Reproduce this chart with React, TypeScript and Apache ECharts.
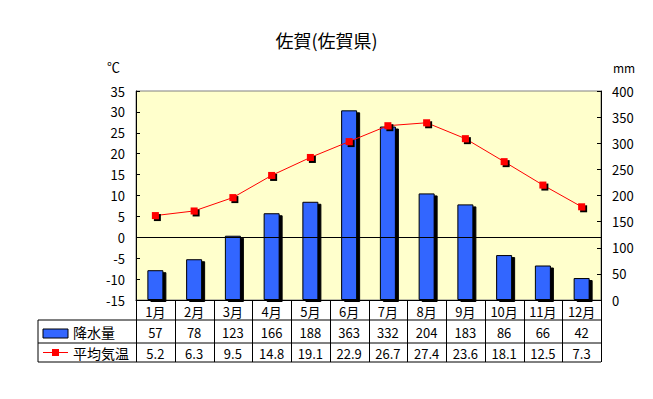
import React, { useEffect, useRef } from "react";
import * as echarts from "echarts";

const months = ["1月", "2月", "3月", "4月", "5月", "6月", "7月", "8月", "9月", "10月", "11月", "12月"];
const precipitation = [57, 78, 123, 166, 188, 363, 332, 204, 183, 86, 66, 42];
const temperature = [5.2, 6.3, 9.5, 14.8, 19.1, 22.9, 26.7, 27.4, 23.6, 18.1, 12.5, 7.3];
const titleText = "佐賀(佐賀県)";
const precipLabel = "降水量";
const tempLabel = "平均気温";

const FONT = "'Noto Sans CJK JP', sans-serif";

export default function App() {
  const ref = useRef<HTMLDivElement>(null);
  useEffect(() => {
    if (!ref.current) return;
    const chart = echarts.init(ref.current, null, { renderer: "svg" });
    const gL = 136, gT = 91, gW = 465, gH = 209;
    const colW = gW / months.length;
    const tableL = 38;
    const rowY = [gT + gH, 320, 343, 362];
    const graphics: any[] = [];
    const black = { stroke: "#000", lineWidth: 1 };
    graphics.push({ type: "line", shape: { x1: tableL, y1: rowY[1], x2: gL + gW, y2: rowY[1] }, style: black });
    graphics.push({ type: "line", shape: { x1: tableL, y1: rowY[2], x2: gL + gW, y2: rowY[2] }, style: black });
    graphics.push({ type: "line", shape: { x1: tableL, y1: rowY[3], x2: gL + gW, y2: rowY[3] }, style: black });
    graphics.push({ type: "line", shape: { x1: tableL, y1: rowY[1], x2: tableL, y2: rowY[3] }, style: black });
    for (let i = 0; i <= months.length; i++) {
      const x = Math.round(gL + i * colW) + 0.5;
      graphics.push({ type: "line", shape: { x1: x, y1: rowY[0], x2: x, y2: rowY[3] }, style: black });
    }
    for (let i = 0; i < months.length; i++) {
      const cx = gL + (i + 0.5) * colW;
      graphics.push({ type: "text", x: cx, y: (rowY[1] + rowY[2]) / 2 + 1, style: { text: String(precipitation[i]), fill: "#000", font: `13px ${FONT}`, align: "center", verticalAlign: "middle" } });
      graphics.push({ type: "text", x: cx, y: (rowY[2] + rowY[3]) / 2 + 1, style: { text: temperature[i].toFixed(1), fill: "#000", font: `13px ${FONT}`, align: "center", verticalAlign: "middle" } });
    }
    graphics.push({ type: "rect", shape: { x: 43, y: 329, width: 25, height: 9 }, style: { fill: "#3366FF", stroke: "#000", lineWidth: 1 } });
    graphics.push({ type: "text", x: 73, y: 332, style: { text: precipLabel, fill: "#000", font: `14px ${FONT}`, verticalAlign: "middle" } });
    graphics.push({ type: "line", shape: { x1: 43, y1: 352.5, x2: 68, y2: 352.5 }, style: { stroke: "#FF0000", lineWidth: 1 } });
    graphics.push({ type: "rect", shape: { x: 52, y: 349, width: 7, height: 7 }, style: { fill: "#FF0000" } });
    graphics.push({ type: "text", x: 73, y: 353, style: { text: tempLabel, fill: "#000", font: `14px ${FONT}`, verticalAlign: "middle" } });
    graphics.push({ type: "text", x: 107, y: 66, style: { text: "℃", fill: "#000", font: `13px ${FONT}`, verticalAlign: "middle" } });
    graphics.push({ type: "text", x: 613, y: 67, style: { text: "mm", fill: "#000", font: `12px ${FONT}`, verticalAlign: "middle" } });

    chart.setOption({
      animation: false,
      backgroundColor: "#fff",
      title: { text: titleText, left: "center", top: 26, textStyle: { fontFamily: FONT, fontSize: 18, fontWeight: "normal", color: "#000" } },
      grid: { left: gL, top: gT, width: gW, height: gH, show: true, backgroundColor: "#FFFFCC", borderColor: "#808080", borderWidth: 1 },
      xAxis: {
        type: "category",
        data: months,
        axisLine: { show: true, onZero: false, lineStyle: { color: "#000", width: 1 } },
        axisTick: { show: false },
        axisLabel: { color: "#000", fontFamily: FONT, fontSize: 13, margin: 5 },
        splitLine: { show: false },
      },
      yAxis: [
        {
          type: "value", min: -15, max: 35, interval: 5, position: "left",
          axisLine: { show: true, lineStyle: { color: "#000" } },
          axisTick: { show: true, inside: true, length: 4, lineStyle: { color: "#000" } },
          axisLabel: { color: "#000", fontFamily: FONT, fontSize: 13, margin: 11 },
          splitLine: { show: false },
        },
        {
          type: "value", min: 0, max: 400, interval: 50, position: "right",
          axisLine: { show: true, lineStyle: { color: "#000" } },
          axisTick: { show: true, inside: true, length: 4, lineStyle: { color: "#000" } },
          axisLabel: { color: "#000", fontFamily: FONT, fontSize: 13, margin: 11 },
          splitLine: { show: false },
        },
      ],
      series: [
        {
          name: precipLabel, type: "bar", yAxisIndex: 1, data: precipitation, barWidth: 16,
          itemStyle: { color: "#3366FF", borderColor: "#000", borderWidth: 1, shadowColor: "#000", shadowOffsetX: 3, shadowOffsetY: 2, shadowBlur: 0 },
          z: 2,
        },
        {
          name: tempLabel, type: "line", yAxisIndex: 0, data: temperature,
          symbol: "rect", symbolSize: 7,
          lineStyle: { color: "#FF0000", width: 1 },
          itemStyle: { color: "#FF0000", shadowColor: "#000", shadowOffsetX: 2, shadowOffsetY: 2, shadowBlur: 0 },
          markLine: { silent: true, symbol: "none", label: { show: false }, lineStyle: { color: "#000", type: "solid", width: 1 }, data: [{ yAxis: 0 }] },
          z: 3,
        },
      ],
      graphic: graphics,
    });
    return () => chart.dispose();
  }, []);
  return <div ref={ref} style={{ position: "absolute", left: 0, top: 0, width: 653, height: 399 }} />;
}
